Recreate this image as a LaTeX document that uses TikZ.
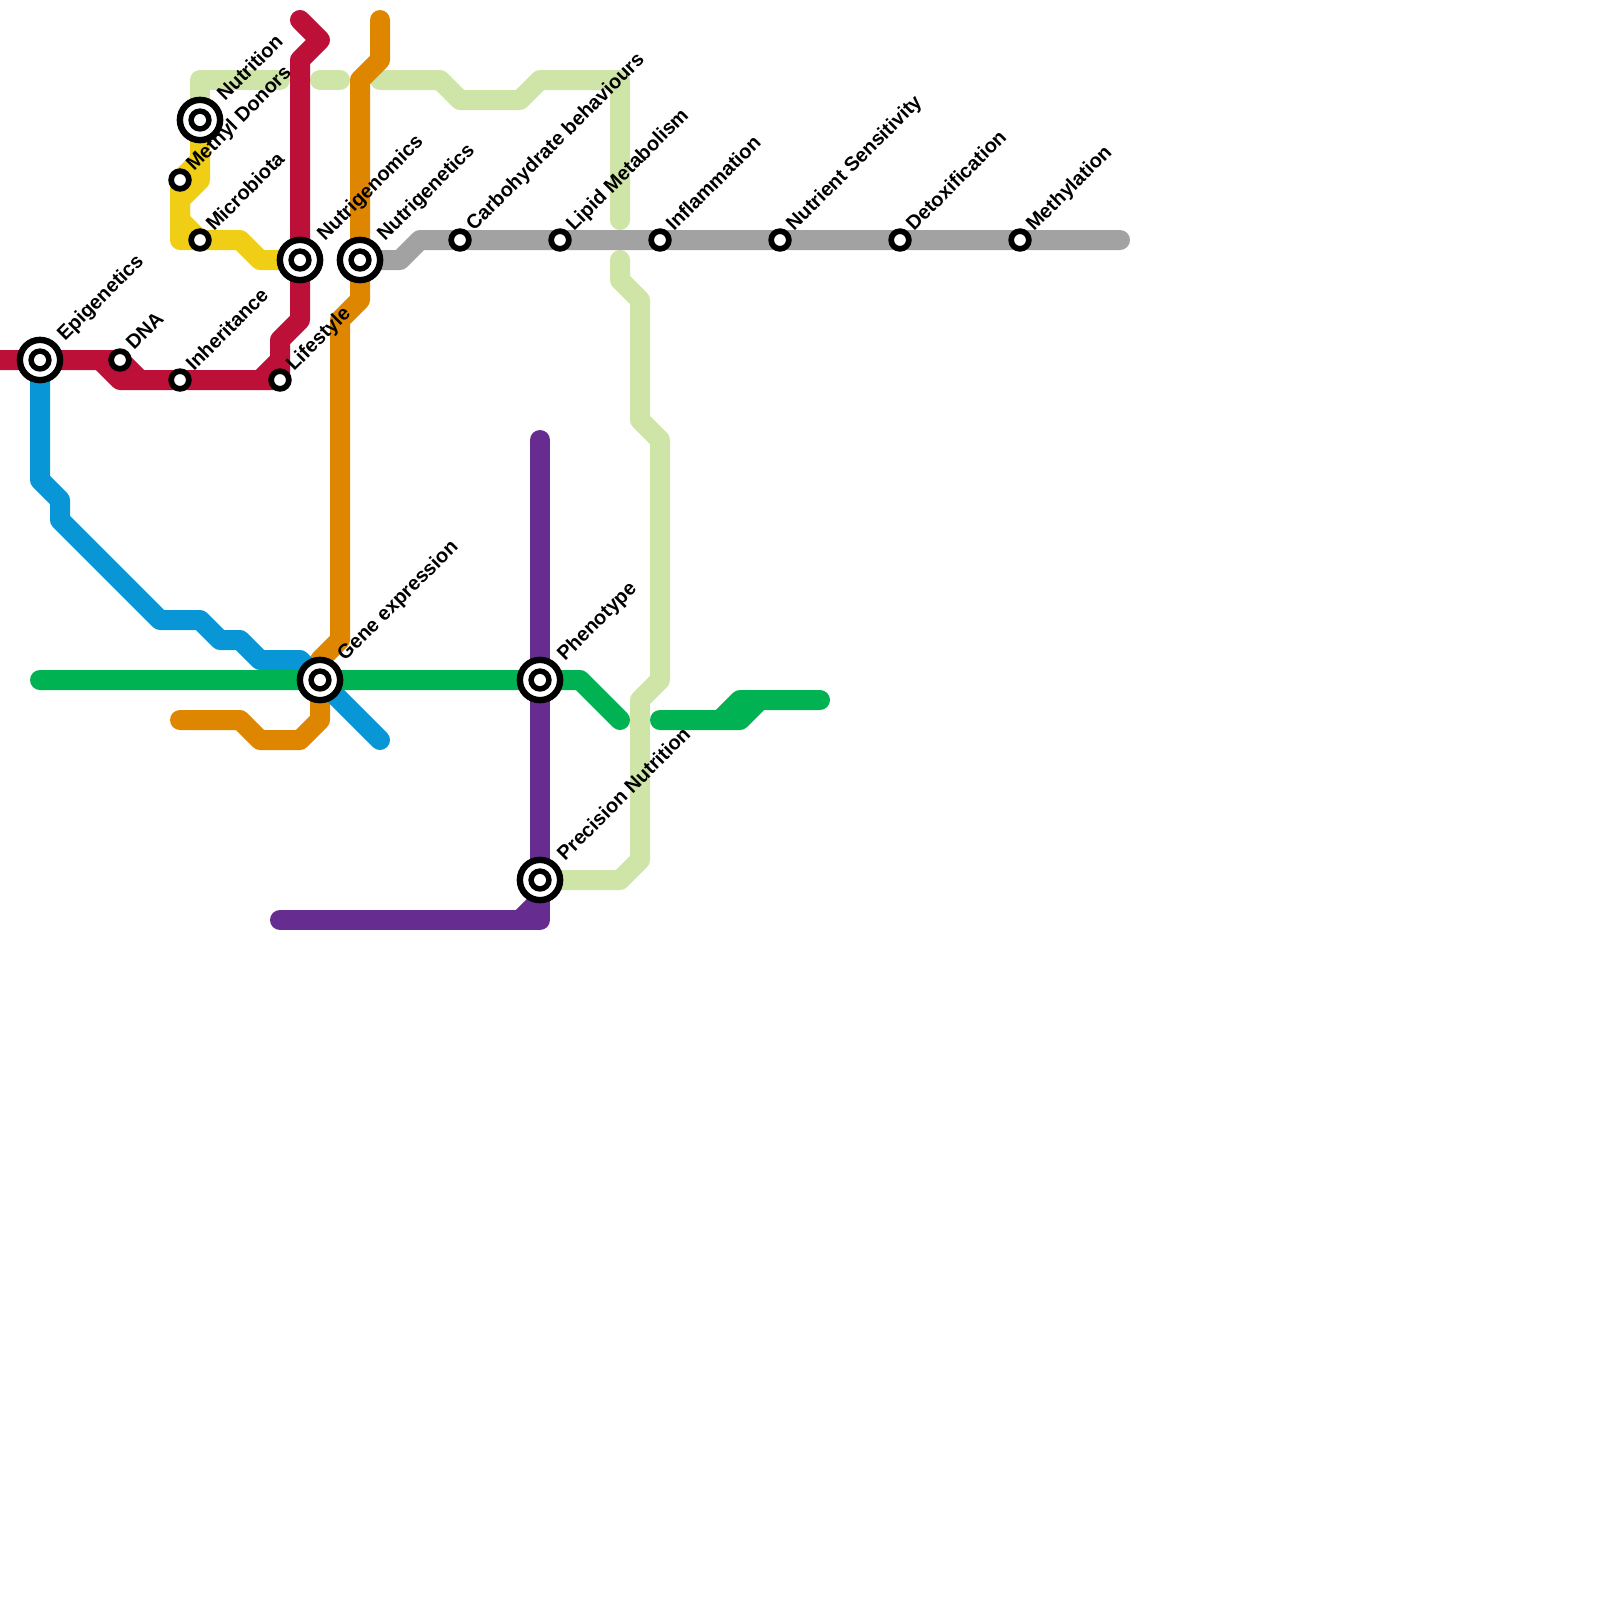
\documentclass[tikz,border=0pt]{standalone}
\usepackage{fontspec}
\setmainfont{Liberation Sans}
\usepackage{xcolor}
\usetikzlibrary{backgrounds}
\definecolor{metrored}{HTML}{BD1038}
\definecolor{metroorange}{HTML}{DF8600}
\definecolor{metrolime}{HTML}{CFE4A7}
\definecolor{metroyellow}{HTML}{F0CE15}
\definecolor{metroblue}{HTML}{0896D7}
\definecolor{metrogreen}{HTML}{00B251}
\definecolor{metropurple}{HTML}{662C90}
\definecolor{metrogray}{HTML}{A2A2A2}

\begin{document}
\begin{tikzpicture}[
    x=0.5cm, y=-0.5cm,
    metroline/.style={
      line width=0.5cm, line cap=round, line join=round
    },
    bigstop/.style={
      circle, draw=black, fill=white, line width=0.16cm,
      minimum size=1.0067cm, inner sep=0pt,
      path picture={
        \fill[black] (path picture bounding box.center) circle (0.2925cm);
        \fill[white] (path picture bounding box.center) circle (0.15cm);
      }
    },
    smallstop/.style={
      circle, draw=black, fill=white, line width=0.1425cm,
      minimum size=0.4425cm, inner sep=0pt
    },
    stoplabel/.style={
      rotate=45, anchor=base west, inner sep=0pt,
      font=\fontsize{14.2pt}{16pt}\selectfont\bfseries
    }
  ]
    \useasboundingbox (0,0) rectangle (80,80);

    % Interchange stops
    \node[bigstop]   (epigenetics)   at ( 2, 18) {};
    \node[bigstop]   (nutrition)     at (10,  6) {};
    \node[bigstop]   (nutrigenomics) at (15, 13) {};
    \node[bigstop]   (nutrigenetics) at (18, 13) {};
    \node[bigstop]   (geneexpr)      at (16, 34) {};
    \node[bigstop]   (phenotype)     at (27, 34) {};
    \node[bigstop]   (precision)     at (27, 44) {};

    % Plain stops
    \node[smallstop] (dna)           at ( 6, 18) {};
    \node[smallstop] (inheritance)   at ( 9, 19) {};
    \node[smallstop] (lifestyle)     at (14, 19) {};
    \node[smallstop] (methyl)        at ( 9,  9) {};
    \node[smallstop] (microbiota)    at (10, 12) {};
    \node[smallstop] (carbo)         at (23, 12) {};
    \node[smallstop] (lipid)         at (28, 12) {};
    \node[smallstop] (inflammation)  at (33, 12) {};
    \node[smallstop] (sensitivity)   at (39, 12) {};
    \node[smallstop] (detox)         at (45, 12) {};
    \node[smallstop] (methylation)   at (51, 12) {};

    % Free line ends
    \coordinate (redstart)    at ( 0, 18);
    \coordinate (redend)      at (15,  1);
    \coordinate (redfork)     at ( 5, 18);
    \coordinate (redlink)     at (13, 19);
    \coordinate (yellowfork)  at (10,  8);
    \coordinate (limeend)     at (14,  4);
    \coordinate (limemid)     at (16,  4);
    \coordinate (limetop)     at (19,  4);
    \coordinate (limelow)     at (31, 13);
    \coordinate (orangetop)   at (19,  1);
    \coordinate (orangeleft)  at ( 9, 36);
    \coordinate (blueend)     at (19, 37);
    \coordinate (greenstart)  at ( 2, 34);
    \coordinate (greenend)    at (31, 36);
    \coordinate (greeneast)   at (33, 36);
    \coordinate (greenfork)   at (36, 36);
    \coordinate (purpletop)   at (27, 22);
    \coordinate (purpleleft)  at (14, 46);
    \coordinate (purplefork)  at (26, 46);
    \coordinate (grayend)     at (56, 12);

    \begin{scope}[on background layer]
    % Lime line
    \draw[metroline, metrolime] (nutrition.center) -- ++(0,-2) -- (limeend);
    \draw[metroline, metrolime] (limemid) -- ++(1,0);
    \draw[metroline, metrolime] (limetop) -- ++(3,0) -- ++(1,1) -- ++(3,0) -- ++(1,-1)
      -- ++(4,0) -- ++(0,7);
    \draw[metroline, metrolime] (limelow) -- ++(0,1) -- ++(1,1) -- ++(0,6) -- ++(1,1)
      -- ++(0,12) -- ++(-1,1) -- ++(0,8) -- ++(-1,1) -- (precision.center);

    % Gray line
    \draw[metroline, metrogray] (nutrigenetics.center) -- ++(2,0) -- ++(1,-1) -- (grayend);

    % Yellow line
    \draw[metroline, metroyellow] (nutrition.center) -- ++(0,3) -- ++(-1,1) -- ++(0,2)
      -- ++(3,0) -- ++(1,1) -- (nutrigenomics.center);
    \draw[metroline, metroyellow] (yellowfork) -- (methyl.center) -- ++(0,2) -- (microbiota.center);

    % Orange line
    \draw[metroline, metroorange] (orangetop) -- ++(0,2) -- ++(-1,1) -- (nutrigenetics.center)
      -- ++(0,2) -- ++(-1,1) -- ++(0,16) -- ++(-1,1) -- (geneexpr.center) -- ++(0,2)
      -- ++(-1,1) -- ++(-2,0) -- ++(-1,-1) -- (orangeleft);

    % Red line
    \draw[metroline, metrored] (redstart) -- (dna.center) -- ++(1,1) -- (lifestyle.center)
      -- ++(0,-2) -- ++(1,-1) -- (nutrigenomics.center) -- ++(0,-10) -- ++(1,-1) -- (redend);
    \draw[metroline, metrored] (redfork) -- ++(1,1) -- ++(1,0);
    \draw[metroline, metrored] (redlink) -- ++(1,-1);

    % Blue line
    \draw[metroline, metroblue] (epigenetics.center) -- ++(0,6) -- ++(1,1) -- ++(0,1)
      -- ++(5,5) -- ++(2,0) -- ++(1,1) -- ++(1,0) -- ++(1,1) -- ++(2,0)
      -- (geneexpr.center) -- (blueend);

    % Green line
    \draw[metroline, metrogreen] (greenstart) -- (geneexpr.center) -- (phenotype.center)
      -- ++(2,0) -- (greenend);
    \draw[metroline, metrogreen] (greeneast) -- ++(4,0) -- ++(1,-1) -- ++(3,0);
    \draw[metroline, metrogreen] (greenfork) -- ++(1,-1) -- ++(1,0);

    % Purple line
    \draw[metroline, metropurple] (purpletop) -- (phenotype.center) -- (precision.center)
      -- ++(0,2) -- (purpleleft);
    \draw[metroline, metropurple] (purplefork) -- ++(1,-1);
    \end{scope}

    % Labels
    \node[stoplabel] (epigeneticslab) at ( 3.25, 17.1) {Epigenetics};
    \node[stoplabel] (nutritionlab)   at (11.25,  5.1) {Nutrition};
    \node[stoplabel] (genomicslab)    at (16.25, 12.1) {Nutrigenomics};
    \node[stoplabel] (geneticslab)    at (19.25, 12.1) {Nutrigenetics};
    \node[stoplabel] (geneexprlab)    at (17.25, 33.1) {Gene expression};
    \node[stoplabel] (phenotypelab)   at (28.25, 33.1) {Phenotype};
    \node[stoplabel] (precisionlab)   at (28.25, 43.1) {Precision Nutrition};
    \node[stoplabel] (dnalab)         at ( 6.7, 17.55) {DNA};
    \node[stoplabel] (inheritlab)     at ( 9.7, 18.6) {Inheritance};
    \node[stoplabel] (lifestylelab)   at (14.7, 18.6) {Lifestyle};
    \node[stoplabel] (methyllab)      at ( 9.7,  8.6) {Methyl Donors};
    \node[stoplabel] (microbiotalab)  at (10.7, 11.6) {Microbiota};
    \node[stoplabel] (carbolab)       at (23.7, 11.6) {Carbohydrate behaviours};
    \node[stoplabel] (lipidlab)       at (28.7, 11.6) {Lipid Metabolism};
    \node[stoplabel] (inflamlab)      at (33.7, 11.6) {Inflammation};
    \node[stoplabel] (sensitivitylab) at (39.7, 11.6) {Nutrient Sensitivity};
    \node[stoplabel] (detoxlab)       at (45.7, 11.6) {Detoxification};
    \node[stoplabel] (methylationlab) at (51.7, 11.6) {Methylation};

\end{tikzpicture}
\end{document}
